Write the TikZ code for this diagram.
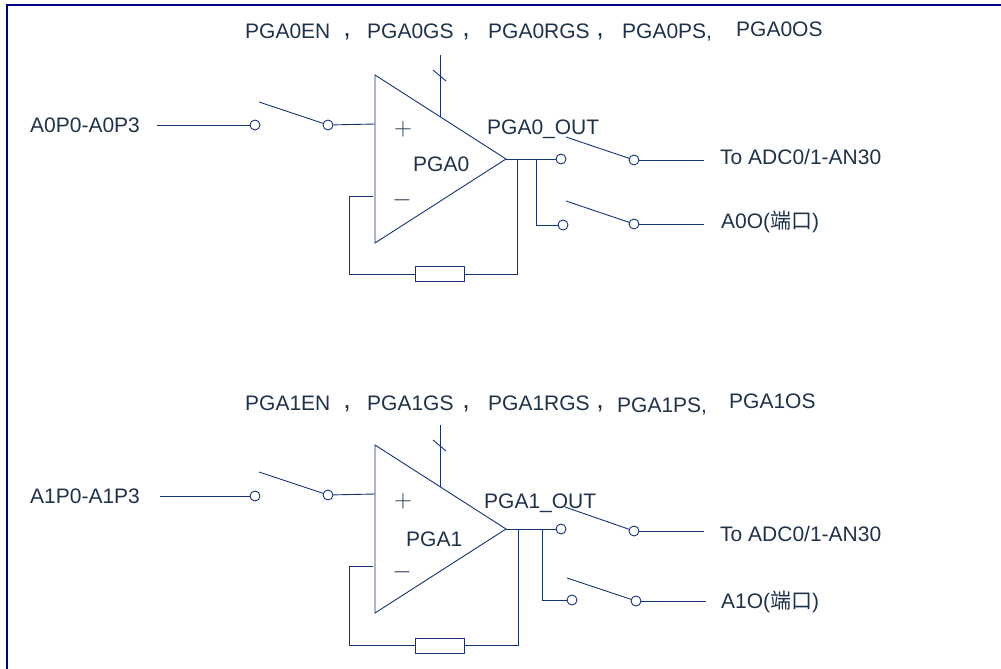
\documentclass[tikz,border=0pt]{standalone}
\usepackage{fontspec}
\setmainfont{Liberation Sans}
\newfontfamily\cjk{Noto Sans CJK SC}
\definecolor{framec}{RGB}{0,0,128}
\definecolor{wirec}{RGB}{20,50,120}
\definecolor{textc}{RGB}{30,50,75}
\tikzset{
	wire/.style={draw=wirec,line width=0.9pt},
	term/.style={circle,draw=wirec,line width=0.9pt,fill=white,inner sep=0pt,minimum size=10pt},
	lbl/.style={text=textc,font=\fontsize{21}{23}\selectfont,inner sep=0pt,anchor=base west},
	sep/.style={text=textc,font=\fontsize{27}{29}\selectfont,inner sep=0pt,anchor=base},
	sym/.style={text=textc,font=\fontsize{27}{29}\selectfont,inner sep=0pt},
	resbox/.style={draw=wirec,line width=0.9pt,fill=white,inner sep=0pt,minimum width=49pt,minimum height=15pt},
}
\begin{document}
\begin{tikzpicture}[x=1pt,y=-1pt]
	\useasboundingbox (0,0) rectangle (1001,669);
	% frame
	\draw[framec,line width=2pt] (7,669) -- (7,5) -- (1001,5);
	% upper amplifier
	\node[lbl] (bus0a) at (245,39) {PGA0EN};
	\node[sep] (sep0a) at (347,37) {,};
	\node[lbl] (bus0b) at (367,39) {PGA0GS};
	\node[sep] (sep0b) at (466,37) {,};
	\node[lbl] (bus0c) at (488,39) {PGA0RGS};
	\node[sep] (sep0c) at (600,37) {,};
	\node[lbl] (bus0d) at (622,39) {PGA0PS,};
	\node[lbl] (bus0e) at (736,37) {PGA0OS};
	\coordinate (a0tl) at (375,75);
	\coordinate (a0bl) at (375,243);
	\coordinate (a0r) at (506,159);
	\draw[wire] (a0tl) -- (a0r) -- (a0bl) -- cycle;
	\coordinate (a0en) at (440,117);
	\coordinate (a0top) at (440,55);
	\draw[wire] (a0en) -- (a0top);
	\coordinate (a0t1) at (433,70);
	\coordinate (a0t2) at (446,81);
	\draw[wire] (a0t1) -- (a0t2);
	\node[sym] (a0plus) at (403,129) {$+$};
	\node[sym] (a0minus) at (402,200) {$-$};
	\node[lbl] (a0name) at (413,171) {PGA0};
	\node[lbl] (a0in) at (30,132) {A0P0-A0P3};
	\node[term] (a0s1) at (255,125) {};
	\node[term] (a0s2) at (328,125) {};
	\coordinate (a0w1) at (157,125);
	\coordinate (a0arm) at (259,102);
	\coordinate (a0p) at (375,124);
	\draw[wire] (a0w1) -- (a0s1);
	\draw[wire] (a0arm) -- (a0s2);
	\draw[wire] (a0s2) -- (a0p);
	% feedback
	\node[resbox] (a0res) at (439.5,274) {};
	\coordinate (a0m) at (373,196);
	\coordinate (a0c1) at (349,196);
	\coordinate (a0c2) at (349,274);
	\coordinate (a0c3) at (517,274);
	\coordinate (a0c4) at (517,159);
	\draw[wire] (a0m) -- (a0c1) -- (a0c2) -- (a0res);
	\draw[wire] (a0res) -- (a0c3) -- (a0c4);
	% outputs
	\node[lbl] (a0out) at (487,134) {PGA0\_OUT};
	\node[term] (a0o1) at (561,159) {};
	\node[term] (a0o2) at (563,225) {};
	\node[term] (a0o3) at (634,160) {};
	\node[term] (a0o4) at (634,224) {};
	\coordinate (a0j) at (536,159);
	\coordinate (a0k) at (536,225);
	\coordinate (a0arm1) at (566,137);
	\coordinate (a0arm2) at (566,201);
	\coordinate (a0e1) at (704,160);
	\coordinate (a0e2) at (704,224);
	\draw[wire] (a0r) -- (a0o1);
	\draw[wire] (a0j) -- (a0k) -- (a0o2);
	\draw[wire] (a0arm1) -- (a0o3);
	\draw[wire] (a0arm2) -- (a0o4);
	\draw[wire] (a0o3) -- (a0e1);
	\draw[wire] (a0o4) -- (a0e2);
	\node[lbl] (a0adc) at (720,164) {To ADC0/1-AN30};
	\node[lbl] (a0port) at (721,228) {A0O({\cjk 端口})};
	% lower amplifier
	\node[lbl] (bus1a) at (245,410) {PGA1EN};
	\node[sep] (sep1a) at (347,408) {,};
	\node[lbl] (bus1b) at (367,410) {PGA1GS};
	\node[sep] (sep1b) at (466,408) {,};
	\node[lbl] (bus1c) at (488,410) {PGA1RGS};
	\node[sep] (sep1c) at (600,408) {,};
	\node[lbl] (bus1d) at (617,412) {PGA1PS,};
	\node[lbl] (bus1e) at (729,408) {PGA1OS};
	\coordinate (a1tl) at (375,445);
	\coordinate (a1bl) at (375,613);
	\coordinate (a1r) at (506,529);
	\draw[wire] (a1tl) -- (a1r) -- (a1bl) -- cycle;
	\coordinate (a1en) at (440,487);
	\coordinate (a1top) at (440,425);
	\draw[wire] (a1en) -- (a1top);
	\coordinate (a1t1) at (433,440);
	\coordinate (a1t2) at (446,451);
	\draw[wire] (a1t1) -- (a1t2);
	\node[sym] (a1plus) at (403,501) {$+$};
	\node[sym] (a1minus) at (402,572) {$-$};
	\node[lbl] (a1name) at (406,546) {PGA1};
	\node[lbl] (a1in) at (30,503) {A1P0-A1P3};
	\node[term] (a1s1) at (255,496) {};
	\node[term] (a1s2) at (328,495) {};
	\coordinate (a1w1) at (160,496);
	\coordinate (a1arm) at (259,472);
	\coordinate (a1p) at (375,494);
	\draw[wire] (a1w1) -- (a1s1);
	\draw[wire] (a1arm) -- (a1s2);
	\draw[wire] (a1s2) -- (a1p);
	% feedback
	\node[resbox] (a1res) at (440,645.5) {};
	\coordinate (a1m) at (373,566);
	\coordinate (a1c1) at (349,566);
	\coordinate (a1c2) at (349,645.5);
	\coordinate (a1c3) at (518,645.5);
	\coordinate (a1c4) at (518,529);
	\draw[wire] (a1m) -- (a1c1) -- (a1c2) -- (a1res);
	\draw[wire] (a1res) -- (a1c3) -- (a1c4);
	% outputs
	\node[lbl] (a1out) at (484,508) {PGA1\_OUT};
	\node[term] (a1o1) at (561,529) {};
	\node[term] (a1o2) at (572,600) {};
	\node[term] (a1o3) at (634,531) {};
	\node[term] (a1o4) at (636,601) {};
	\coordinate (a1j) at (542,529);
	\coordinate (a1k) at (542,600);
	\coordinate (a1arm1) at (565,507);
	\coordinate (a1arm2) at (567,578);
	\coordinate (a1e1) at (704,531);
	\coordinate (a1e2) at (706,601);
	\draw[wire] (a1r) -- (a1o1);
	\draw[wire] (a1j) -- (a1k) -- (a1o2);
	\draw[wire] (a1arm1) -- (a1o3);
	\draw[wire] (a1arm2) -- (a1o4);
	\draw[wire] (a1o3) -- (a1e1);
	\draw[wire] (a1o4) -- (a1e2);
	\node[lbl] (a1adc) at (720,541) {To ADC0/1-AN30};
	\node[lbl] (a1port) at (721,608) {A1O({\cjk 端口})};
\end{tikzpicture}
\end{document}
